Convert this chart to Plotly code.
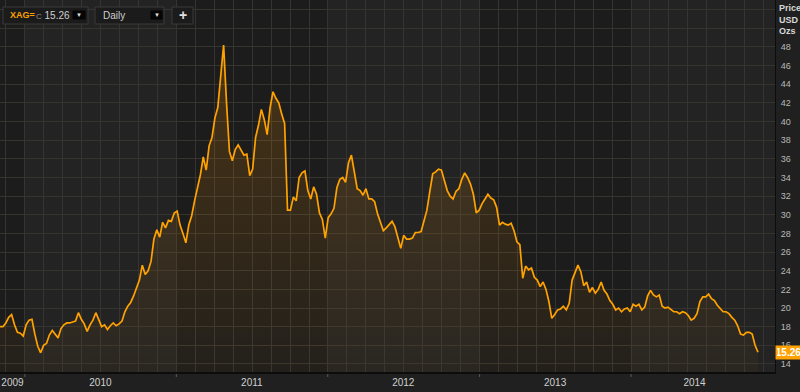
import pandas as pd
import plotly.graph_objects as go

# ---------------- data ----------------
start_date = "2009-11-02"          # weekly closes, XAG= (silver, USD/oz)
prices = [
    18.0, 18.0, 18.4, 19.0, 19.3, 18.2, 17.4, 17.3, 17.0, 18.2,
    18.7, 18.8, 17.2, 15.9, 15.2, 16.0, 16.2, 17.1, 17.6, 17.2,
    16.8, 17.8, 18.2, 18.4, 18.4, 18.5, 18.6, 19.5, 18.8, 18.3,
    17.5, 18.2, 18.7, 19.5, 18.7, 18.0, 18.2, 17.7, 18.1, 18.4,
    18.1, 18.3, 18.6, 19.6, 20.2, 20.6, 21.3, 22.2, 23.0, 24.6,
    23.6, 24.0, 25.0, 27.4, 28.4, 27.6, 29.2, 28.6, 29.4, 29.3,
    30.2, 30.4, 28.9, 28.0, 27.0, 28.9, 29.9, 31.5, 32.8, 34.3,
    36.2, 34.8, 37.4, 38.3, 40.4, 41.5, 44.9, 48.2, 42.0, 36.8,
    35.8, 37.0, 37.5, 37.0, 36.4, 36.5, 34.2, 34.9, 38.3, 39.6,
    41.3, 40.2, 38.6, 41.5, 43.2, 42.5, 42.0, 40.8, 39.8, 30.5,
    30.5, 31.9, 31.5, 34.0, 34.5, 34.7, 32.6, 31.7, 33.0, 32.2,
    30.2, 29.5, 27.5, 29.7, 30.1, 30.7, 32.9, 33.8, 34.0, 33.5,
    35.6, 36.4, 34.6, 32.8, 32.6, 32.1, 32.8, 31.7, 31.7, 31.4,
    30.1, 29.1, 28.3, 28.6, 29.0, 29.3, 28.7, 27.5, 26.4, 27.8,
    27.4, 27.4, 27.5, 28.1, 28.1, 28.2, 29.5, 30.5, 32.5, 34.4,
    34.6, 34.9, 34.8, 33.7, 32.6, 32.0, 31.7, 32.5, 32.8, 33.8,
    34.5, 34.0, 33.3, 32.2, 30.2, 30.5, 31.2, 31.7, 32.2, 31.8,
    31.6, 30.8, 28.9, 29.2, 29.0, 28.9, 29.1, 28.3, 27.1, 26.8,
    23.2, 24.5, 24.1, 24.3, 23.3, 23.0, 22.3, 22.8, 22.0, 20.7,
    18.9, 19.3, 19.8, 19.9, 20.2, 19.8, 20.5, 23.0, 23.9, 24.6,
    23.9, 22.4, 22.8, 21.7, 22.2, 21.6, 22.0, 22.8, 21.9, 21.5,
    20.8, 20.4, 19.8, 20.0, 19.6, 19.9, 20.0, 19.6, 20.4, 20.2,
    20.4, 19.8, 20.1, 21.3, 21.9, 21.4, 21.2, 21.4, 20.2, 20.0,
    20.1, 19.8, 19.6, 19.6, 19.4, 19.6, 19.5, 19.2, 18.7, 18.9,
    19.4, 20.7, 21.2, 21.2, 21.5, 21.0, 20.8, 20.3, 20.0, 19.6,
    19.6, 19.4, 19.0, 18.7, 18.1, 17.2, 17.1, 17.4, 17.4, 17.2,
    16.0, 15.26,
]
year_labels = ["2009", "2010", "2011", "2012", "2013", "2014"]
year_label_dates = ["2009-12-02", "2010-07-02", "2011-07-02", "2012-07-01",
                    "2013-07-02", "2014-06-03"]
year_starts = ["2009-01-01", "2010-01-01", "2011-01-01", "2012-01-01",
               "2013-01-01", "2014-01-01", "2015-01-01"]
y_tickvals = list(range(14, 54, 2))
y_ticktext = [str(v) if v <= 48 else "" for v in y_tickvals]
x_range = ["2009-11-02", "2014-12-14"]
y_range = [13.14, 53.04]

dates = pd.date_range(start=start_date, periods=len(prices), freq="7D")

# ---------------- figure ----------------
W, H = 800, 392
ML, MR, MT, MB = 0, 25, 0, 20
PW, PH = W - ML - MR, H - MT - MB

def px(x):  # pixel -> paper x
    return (x - ML) / PW

def py(y):  # pixel -> paper y
    return 1 - (y - MT) / PH

ORANGE = "#ffa200"
GRID = "#35342f"
FONT = "Liberation Sans"

fig = go.Figure()
fig.add_trace(go.Scatter(
    x=dates, y=prices, mode="lines",
    line=dict(color=ORANGE, width=1.7),
    fill="tozeroy",
    fillgradient=dict(type="vertical", start=13, stop=48,
                      colorscale=[[0, "rgba(255,150,0,0.03)"],
                                  [1, "rgba(255,150,0,0.20)"]]),
    hoverinfo="skip",
))

shapes = []
# alternating year bands
for i in range(len(year_starts) - 1):
    if i % 2 == 1:
        shapes.append(dict(type="rect", xref="x", yref="paper",
                           x0=year_starts[i], x1=year_starts[i + 1], y0=0, y1=1,
                           fillcolor="#232323", line=dict(width=0), layer="below"))
# small year-boundary ticks under the axis line
for d in year_starts[1:-1]:
    shapes.append(dict(type="line", xref="x", yref="paper", x0=d, x1=d,
                       y0=py(MT + PH + 2), y1=py(MT + PH + 5),
                       line=dict(color="#5a5a5a", width=1)))

# top-left control boxes (UI chrome)
def box(x0, y0, x1, y1, fill="#1b1b1b", border="#3a3a3a"):
    shapes.append(dict(type="rect", xref="paper", yref="paper",
                       x0=px(x0), x1=px(x1), y0=py(y1), y1=py(y0),
                       fillcolor=fill, line=dict(color=border, width=1), layer="above"))

box(3, 7, 88, 24)
box(73, 11, 85, 19, fill="#050505", border="#050505")
box(95, 7, 164, 24)
box(151, 11, 162, 19, fill="#050505", border="#050505")
box(172, 7, 193, 24)

annotations = [
    dict(xref="paper", yref="paper", x=px(8), y=py(15.5), xanchor="left", yanchor="middle",
         text="<b>XAG=</b>", showarrow=False, font=dict(color=ORANGE, size=9, family=FONT)),
    dict(xref="paper", yref="paper", x=px(34), y=py(15.5), xanchor="left", yanchor="middle",
         text="<span style='font-size:8px;color:#8a8a8a'>C</span> 15.26", showarrow=False,
         font=dict(color="#cfcfcf", size=10, family=FONT)),
    dict(xref="paper", yref="paper", x=px(79), y=py(15), xanchor="center", yanchor="middle",
         text="▼", showarrow=False, font=dict(color="#e0e0e0", size=6)),
    dict(xref="paper", yref="paper", x=px(101), y=py(15.5), xanchor="left", yanchor="middle",
         text="Daily", showarrow=False, font=dict(color="#cfcfcf", size=10, family=FONT)),
    dict(xref="paper", yref="paper", x=px(156.5), y=py(15), xanchor="center", yanchor="middle",
         text="▼", showarrow=False, font=dict(color="#e0e0e0", size=6)),
    dict(xref="paper", yref="paper", x=px(182.5), y=py(15), xanchor="center", yanchor="middle",
         text="<b>+</b>", showarrow=False, font=dict(color="#e0e0e0", size=14, family=FONT)),
    # axis title
    dict(xref="paper", yref="paper", x=1, xshift=2, y=1, yshift=-1, xanchor="left", yanchor="top",
         text="<b>Price<br>USD<br>Ozs</b>", align="left", showarrow=False,
         font=dict(color="#d8d8d8", size=9, family=FONT)),
    # last value tag
    dict(xref="paper", yref="y", x=1, xshift=0, y=prices[-1], xanchor="left", yanchor="middle",
         text="<b>%.2f</b>" % prices[-1], showarrow=False, bgcolor=ORANGE, borderpad=1,
         width=23, font=dict(color="#ffffff", size=10, family=FONT)),
]

fig.update_layout(
    width=W, height=H,
    margin=dict(l=ML, r=MR, t=MT, b=MB, pad=0),
    paper_bgcolor="#202020",
    plot_bgcolor="#1c1c1c",
    showlegend=False,
    shapes=shapes,
    annotations=annotations,
    xaxis=dict(
        type="date", range=x_range,
        tickmode="array", tickvals=year_label_dates, ticktext=year_labels,
        ticks="", showgrid=False, zeroline=False,
        showline=True, linecolor="#0c0c0c", linewidth=2,
        tickfont=dict(color="#d0d0d0", size=10, family=FONT),
        minor=dict(dtick=365.25 / 8 * 86400000, tick0="2010-01-01",
                   showgrid=True, gridcolor=GRID, gridwidth=1, ticks=""),
        fixedrange=True,
    ),
    yaxis=dict(
        side="right", range=y_range,
        tickmode="array", tickvals=y_tickvals, ticktext=y_ticktext,
        showgrid=True, gridcolor=GRID, gridwidth=1, zeroline=False,
        showline=True, linecolor="#0c0c0c", linewidth=1,
        ticks="", ticklabelstandoff=3,
        tickfont=dict(color="#b8b8b8", size=9, family=FONT),
        fixedrange=True,
    ),
)

fig.write_html("out.html", config={"displayModeBar": False})

# remove default page margin so the figure fills the 800x392 window exactly
with open("out.html", "r", encoding="utf-8") as f:
    html = f.read()
html = html.replace("<head>", "<head><style>html,body{margin:0;padding:0;overflow:hidden;background:#202020;}</style>", 1)
with open("out.html", "w", encoding="utf-8") as f:
    f.write(html)
